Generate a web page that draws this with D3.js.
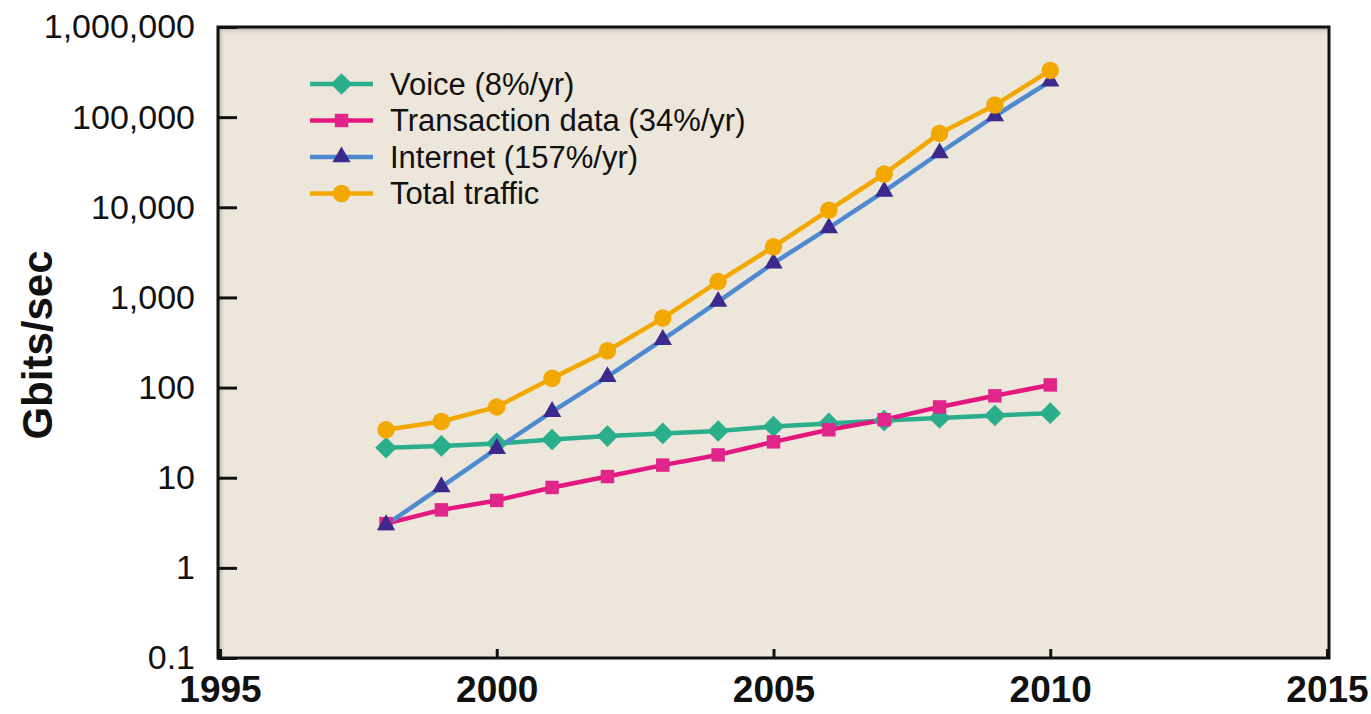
<!DOCTYPE html>
<html>
<head>
<meta charset="utf-8">
<script src="https://cdn.jsdelivr.net/npm/d3@7"></script>
<style>
  html, body { margin: 0; padding: 0; background: #ffffff; }
  svg { display: block; }
</style>
</head>
<body>
<svg id="chart" width="1371" height="714"></svg>
<script>
// ---- data ----
const years = [1998, 1999, 2000, 2001, 2002, 2003, 2004, 2005, 2006, 2007, 2008, 2009, 2010];
const voice = [21.5, 22.5, 24, 26.5, 29, 31, 33, 37, 40, 43, 46, 49, 52];
const transaction = [3.1, 4.4, 5.6, 7.8, 10.3, 13.8, 17.9, 25, 34, 44, 61, 81, 107];
const internet = [3.0, 7.9, 21, 54, 132, 340, 900, 2400, 5900, 15000, 40000, 103000, 250000];
const total = [34, 42, 61, 127, 256, 590, 1500, 3650, 9300, 23400, 66000, 136000, 330000];

const seriesNames = ["Voice (8%/yr)", "Transaction data (34%/yr)", "Internet (157%/yr)", "Total traffic"];
const yTickValues = [0.1, 1, 10, 100, 1000, 10000, 100000, 1000000];
const yTickLabels = ["0.1", "1", "10", "100", "1,000", "10,000", "100,000", "1,000,000"];
const xTickValues = [1995, 2000, 2005, 2010, 2015];
const xTickLabels = ["1995", "2000", "2005", "2010", "2015"];
const yTitle = "Gbits/sec";

// ---- layout ----
const svg = d3.select("#chart");
const plot = { left: 218, right: 1329, top: 27, bottom: 658 };

const x = d3.scaleLinear().domain([1995, 2015]).range([220, 1327]);
const y = d3.scaleLog().domain([0.1, 1000000]).range([plot.bottom, plot.top]);

const styles = [
  { values: voice, line: "#2bae8c", fill: "#2bae8c", shape: d3.symbolDiamond2, size: 300 },
  { values: transaction, line: "#e3187f", fill: "#e0268a", shape: d3.symbolSquare2, size: 230 },
  { values: internet, line: "#4f8ad0", fill: "#3b2a8c", shape: d3.symbolTriangle2, size: 240 },
  { values: total, line: "#f2a800", fill: "#f2a800", shape: d3.symbolCircle, size: 240 }
];

// defs: inner shadow gradients
const defs = svg.append("defs");
const gTop = defs.append("linearGradient").attr("id", "shTop").attr("x1", 0).attr("y1", 0).attr("x2", 0).attr("y2", 1);
gTop.append("stop").attr("offset", "0%").attr("stop-color", "#a9a39b").attr("stop-opacity", 1);
gTop.append("stop").attr("offset", "100%").attr("stop-color", "#ede6da").attr("stop-opacity", 0);
const gLeft = defs.append("linearGradient").attr("id", "shLeft").attr("x1", 0).attr("y1", 0).attr("x2", 1).attr("y2", 0);
gLeft.append("stop").attr("offset", "0%").attr("stop-color", "#a9a39b").attr("stop-opacity", 1);
gLeft.append("stop").attr("offset", "100%").attr("stop-color", "#ede6da").attr("stop-opacity", 0);

// plot background
svg.append("rect")
  .attr("x", plot.left).attr("y", plot.top)
  .attr("width", plot.right - plot.left).attr("height", plot.bottom - plot.top)
  .attr("fill", "#ede6da");
svg.append("rect")
  .attr("x", plot.left).attr("y", plot.top)
  .attr("width", plot.right - plot.left).attr("height", 8)
  .attr("fill", "url(#shTop)");
svg.append("rect")
  .attr("x", plot.left).attr("y", plot.top)
  .attr("width", 8).attr("height", plot.bottom - plot.top)
  .attr("fill", "url(#shLeft)");

// lines
const lineGen = (vals) => d3.line()
  .x((d, i) => x(years[i]))
  .y(d => y(d))(vals);

styles.forEach(s => {
  svg.append("path")
    .attr("d", lineGen(s.values))
    .attr("fill", "none")
    .attr("stroke", s.line)
    .attr("stroke-width", 4.5)
    .attr("stroke-linejoin", "round");
});

// markers
styles.forEach(s => {
  svg.append("g").selectAll("path")
    .data(s.values)
    .join("path")
    .attr("transform", (d, i) => `translate(${x(years[i])},${y(d)})`)
    .attr("d", d3.symbol().type(s.shape).size(s.size))
    .attr("fill", s.fill);
});

// frame
svg.append("rect")
  .attr("x", plot.left).attr("y", plot.top)
  .attr("width", plot.right - plot.left).attr("height", plot.bottom - plot.top)
  .attr("fill", "none").attr("stroke", "#111").attr("stroke-width", 3);

// y axis
const yAxis = d3.axisLeft(y)
  .tickValues(yTickValues)
  .tickFormat((d, i) => yTickLabels[i])
  .tickSizeInner(-19)
  .tickSizeOuter(0)
  .tickPadding(23);
const gy = svg.append("g").attr("transform", `translate(${plot.left},0)`).call(yAxis);
gy.select(".domain").remove();
gy.selectAll(".tick line").attr("stroke", "#111").attr("stroke-width", 3);
gy.selectAll(".tick text")
  .attr("fill", "#111")
  .style("font-family", "'Liberation Sans', Arial, sans-serif")
  .style("font-size", "34px");

// x axis
const xAxis = d3.axisBottom(x)
  .tickValues(xTickValues)
  .tickFormat((d, i) => xTickLabels[i])
  .tickSizeInner(-9)
  .tickSizeOuter(0)
  .tickPadding(18);
const gx = svg.append("g").attr("transform", `translate(0,${plot.bottom})`).call(xAxis);
gx.select(".domain").remove();
gx.selectAll(".tick line").attr("stroke", "#111").attr("stroke-width", 3);
gx.selectAll(".tick text")
  .attr("fill", "#111")
  .style("font-family", "'Liberation Sans', Arial, sans-serif")
  .style("font-weight", "bold")
  .style("font-size", "37px");

// y title
svg.append("text")
  .attr("transform", `translate(52,345) rotate(-90)`)
  .attr("text-anchor", "middle")
  .attr("fill", "#111")
  .style("font-family", "'Liberation Sans Narrow', 'Liberation Sans', sans-serif")
  .style("font-weight", "bold")
  .style("font-size", "42px")
  .text(yTitle);

// legend
const legend = svg.append("g");
const legendX0 = 310, legendX1 = 373, legendTextX = 390, legendY0 = 84, legendDy = 36.5;
styles.forEach((s, i) => {
  const ly = legendY0 + i * legendDy;
  legend.append("line")
    .attr("x1", legendX0).attr("x2", legendX1)
    .attr("y1", ly).attr("y2", ly)
    .attr("stroke", s.line).attr("stroke-width", 4.5);
  legend.append("path")
    .attr("transform", `translate(${(legendX0 + legendX1) / 2},${ly})`)
    .attr("d", d3.symbol().type(s.shape).size(s.size))
    .attr("fill", s.fill);
  legend.append("text")
    .attr("x", legendTextX).attr("y", ly)
    .attr("dy", "0.35em")
    .attr("fill", "#111")
    .style("font-family", "'Liberation Sans', Arial, sans-serif")
    .style("font-size", "31px")
    .text(seriesNames[i]);
});
</script>
</body>
</html>
